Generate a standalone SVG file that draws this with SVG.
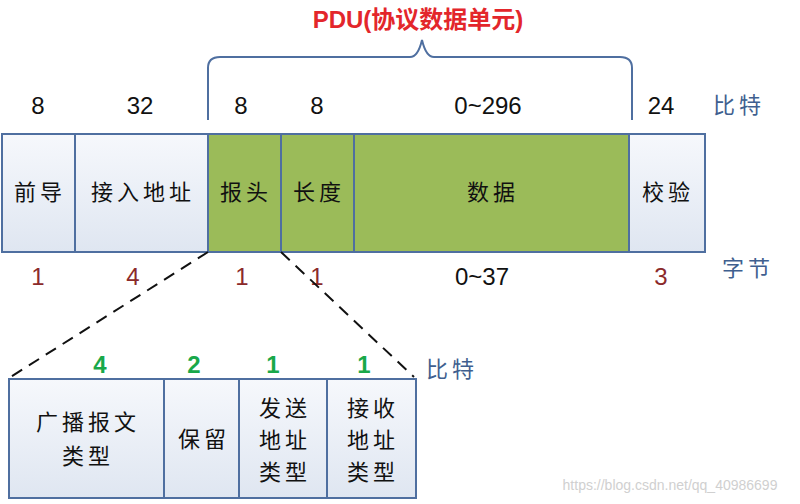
<svg xmlns="http://www.w3.org/2000/svg" width="800" height="504" viewBox="0 0 800 504">
<defs>
<linearGradient id="g" x1="0" y1="0" x2="0" y2="1"><stop offset="0" stop-color="#f6f8fc"/><stop offset="1" stop-color="#dfe6f1"/></linearGradient>
<style>
.b{fill:url(#g);stroke:#4f6fa0;stroke-width:2}
.gr{fill:#9bbb59;stroke:#4f6fa0;stroke-width:2}
.t{font-family:"Noto Sans CJK SC",sans-serif;font-size:22px;fill:#111;text-anchor:middle;letter-spacing:4px}
.n{font-family:"Liberation Sans Narrow","Liberation Sans",sans-serif;font-size:24px;fill:#111;text-anchor:middle}
.r{fill:#8b2a2a}
.gn{fill:#19a84a;font-weight:bold}
.u{font-family:"Noto Sans CJK SC",sans-serif;font-size:22px;fill:#3f5f8f;letter-spacing:4px}
.d{stroke:#111;stroke-width:2;stroke-dasharray:12 8;fill:none}
</style>
</defs>
<text x="418" y="28" font-family="'Liberation Sans','Noto Sans CJK SC',sans-serif" font-size="24" font-weight="bold" fill="#e3262b" text-anchor="middle">PDU(协议数据单元)</text>
<path d="M208,120 V68 Q208,57 220,57 H410 Q418,57 422,40 Q426,57 434,57 H620 Q632,57 632,68 V120" fill="none" stroke="#4f6fa0" stroke-width="2"/>
<g class="n"><text x="38" y="114">8</text><text x="140" y="114">32</text><text x="241" y="114">8</text><text x="317" y="114">8</text><text x="488" y="114">0~296</text><text x="661" y="114">24</text></g>
<text class="u" x="713" y="113">比特</text>
<g id="n1"><rect class="b" x="2" y="134" width="73" height="118"/><text class="t" x="40" y="200">前导</text></g>
<g id="n2"><rect class="b" x="75" y="134" width="133" height="118"/><text class="t" x="143" y="200">接入地址</text></g>
<g id="n3"><rect class="gr" x="208" y="134" width="73" height="118"/><text class="t" x="246" y="200">报头</text></g>
<g id="n4"><rect class="gr" x="281" y="134" width="73" height="118"/><text class="t" x="319" y="200">长度</text></g>
<g id="n5"><rect class="gr" x="354" y="134" width="275" height="118"/><text class="t" x="493" y="200">数据</text></g>
<g id="n6"><rect class="b" x="629" y="134" width="76" height="118"/><text class="t" x="668" y="200">校验</text></g>
<g class="n"><text class="r" x="38" y="285">1</text><text class="r" x="133" y="285">4</text><text class="r" x="242" y="285">1</text><text class="r" x="317" y="285">1</text><text x="482" y="285">0~37</text><text class="r" x="661" y="285">3</text></g>
<text class="u" x="722" y="276">字节</text>
<g id="connectors"><line class="d" x1="208" y1="252" x2="9" y2="378"/><line class="d" x1="281" y1="252" x2="414" y2="377"/></g>
<g class="n"><text class="gn" x="100" y="373">4</text><text class="gn" x="194" y="373">2</text><text class="gn" x="273" y="373">1</text><text class="gn" x="364" y="373">1</text></g>
<text class="u" x="426" y="377">比特</text>
<g id="m1"><rect class="b" x="9" y="379" width="155" height="119"/><text class="t" x="88" y="430">广播报文</text><text class="t" x="88" y="464">类型</text></g>
<g id="m2"><rect class="b" x="164" y="379" width="75" height="119"/><text class="t" x="204" y="447">保留</text></g>
<g id="m3"><rect class="b" x="239" y="379" width="88" height="119"/><text class="t" x="285" y="416">发送</text><text class="t" x="285" y="448">地址</text><text class="t" x="285" y="480">类型</text></g>
<g id="m4"><rect class="b" x="327" y="379" width="89" height="119"/><text class="t" x="373" y="416">接收</text><text class="t" x="373" y="448">地址</text><text class="t" x="373" y="480">类型</text></g>
<text x="670" y="490" font-family="'Liberation Sans',sans-serif" font-size="14" fill="#d0d0d0" text-anchor="middle">https://blog.csdn.net/qq_40986699</text>
</svg>
